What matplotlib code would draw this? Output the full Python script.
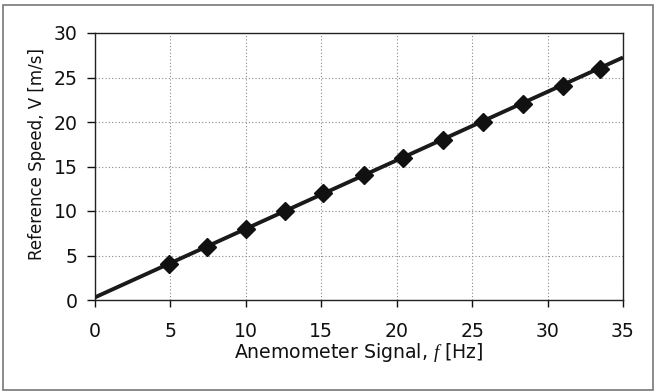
import matplotlib
matplotlib.use("Agg")
import matplotlib.pyplot as plt
from matplotlib.patches import Rectangle

# Data
signal_hz = [4.9, 7.45, 10.0, 12.6, 15.1, 17.8, 20.4, 23.05, 25.7, 28.35, 31.05, 33.5]
speed_ms = [4, 6, 8, 10, 12, 14, 16, 18, 20, 22, 24, 26]
fit_x = [0, 35]
fit_y = [0.3, 27.25]
x_ticks = [0, 5, 10, 15, 20, 25, 30, 35]
y_ticks = [0, 5, 10, 15, 20, 25, 30]

plt.rcParams['font.family'] = ['DejaVu Sans']
plt.rcParams['mathtext.fontset'] = 'custom'
plt.rcParams['mathtext.it'] = 'Liberation Serif:italic'
plt.rcParams['mathtext.rm'] = 'DejaVu Sans'

fig = plt.figure(figsize=(6.55, 3.91), dpi=100)
W, H = 655, 391
ax = fig.add_axes([95 / W, 1 - 300 / H, (623 - 95) / W, (300 - 33) / H])

ax.plot(fit_x, fit_y, color='#1a1a1a', lw=2.8, zorder=3, solid_capstyle='butt')
ax.plot(signal_hz, speed_ms, linestyle='none', marker='D', markersize=8.9,
        markerfacecolor='#111111', markeredgecolor='#111111', zorder=4)

ax.set_xlim(0, 35)
ax.set_ylim(0, 30)
ax.set_xticks(x_ticks)
ax.set_yticks(y_ticks)
ax.grid(True, color='#888888', linestyle=(0, (1, 2)), lw=0.8)
ax.set_axisbelow(True)

for s in ax.spines.values():
    s.set_color('#222222')
    s.set_linewidth(1.0)

ax.tick_params(axis='x', direction='out', length=5, width=1, pad=11, labelsize=13.6, colors='#111111')
ax.tick_params(axis='y', direction='out', length=5.5, width=1, pad=7, labelsize=13.6, colors='#111111')

ax.set_xlabel('Anemometer Signal, $f$ [Hz]', fontsize=13.6, color='#111111', labelpad=0)
ax.set_ylabel('Reference Speed, V [m/s]', fontsize=12, color='#111111')
ax.yaxis.set_label_coords(-0.092, 0.547)

fig.patches.append(Rectangle((3 / W, 1 - 390 / H), (653 - 3) / W, (390 - 5) / H,
                             transform=fig.transFigure, fill=False,
                             edgecolor='#777777', lw=1.2))

fig.savefig('out.png', dpi=100)
